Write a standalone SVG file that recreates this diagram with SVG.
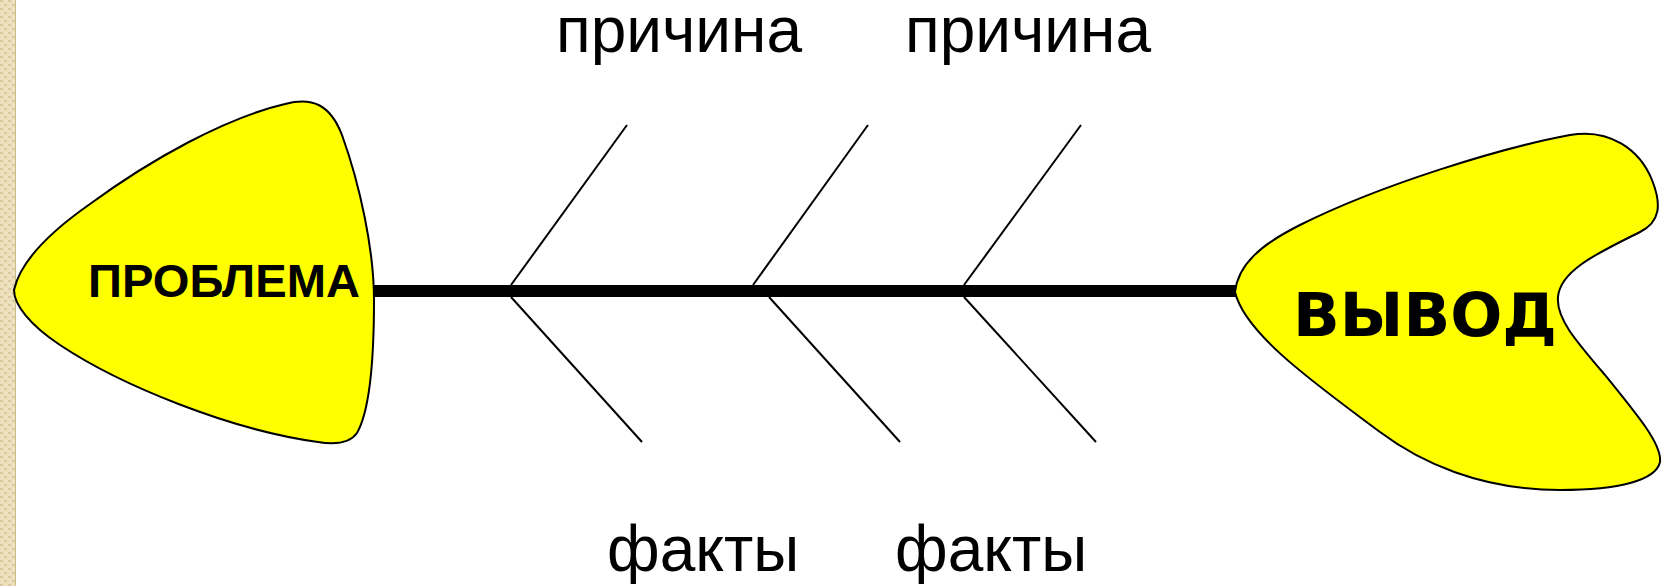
<svg xmlns="http://www.w3.org/2000/svg" width="1670" height="586" viewBox="0 0 1670 586">
<style>
.head{fill:#ffff00;stroke:#000;stroke-width:2;stroke-linejoin:round}
.bone{stroke:#000;stroke-width:2;fill:none}
.spine{stroke:#000;stroke-width:12;fill:none}
.lbl{font-family:"Liberation Sans",Arial,sans-serif;fill:#000}
.hl{font-family:"Liberation Sans",Arial,sans-serif;font-weight:bold;fill:#000}
.hr{font-family:"DejaVu Sans","Liberation Sans",sans-serif;font-weight:bold;fill:#000}
</style>
<defs>
<pattern id="tex" width="8" height="8" patternUnits="userSpaceOnUse">
<rect width="8" height="8" fill="#ecdfbb"/>
<rect x="0" y="0" width="3" height="2" fill="#dccb9e"/>
<rect x="4" y="4" width="3" height="2" fill="#dccb9e"/>
<rect x="2" y="6" width="2" height="1" fill="#f3ead0"/>
<rect x="5" y="1" width="2" height="1" fill="#f3ead0"/>
</pattern>
</defs>
<rect width="1670" height="586" fill="#ffffff"/>
<rect x="0" y="0" width="16" height="586" fill="url(#tex)"/>
<rect x="15" y="0" width="1" height="586" fill="#cdbb8c"/>
<g id="connectors">
<line class="spine" x1="360" y1="291" x2="1240" y2="291"/>
<line class="bone" x1="511" y1="285" x2="627" y2="125"/>
<line class="bone" x1="753" y1="285" x2="868" y2="125"/>
<line class="bone" x1="964" y1="285" x2="1081" y2="125"/>
<line class="bone" x1="511" y1="297" x2="642" y2="442"/>
<line class="bone" x1="769" y1="297" x2="900" y2="442"/>
<line class="bone" x1="964" y1="297" x2="1096" y2="442"/>
</g>
<g id="problem">
<path class="head" d="M 14,290 C 20,262 50,232 90,204 C 150,160 225,118 285,104 C 312,97 330,104 342,135 C 360,185 374,250 374,300 C 374,360 369,412 357,433 C 350,443 337,445 318,442 C 230,430 120,385 60,345 C 30,325 14,305 14,290 Z"/>
<text class="hl" x="88" y="297" font-size="46" textLength="272" lengthAdjust="spacingAndGlyphs">ПРОБЛЕМА</text>
</g>
<g id="conclusion">
<path class="head" d="M 1235,292 C 1238,265 1260,245 1300,225 C 1380,185 1500,148 1570,135 C 1610,128 1640,150 1652,180 C 1662,205 1660,222 1640,232 C 1600,252 1560,270 1558,297 C 1556,318 1575,340 1605,375 C 1640,418 1662,445 1660,462 C 1656,480 1620,490 1560,490 C 1480,490 1420,462 1380,432 C 1320,387 1245,335 1235,292 Z"/>
<text class="hr" x="1293" y="336" font-size="60" textLength="264" lengthAdjust="spacingAndGlyphs">ВЫВОД</text>
</g>
<g id="cause1"><text class="lbl" x="556" y="52" font-size="64">причина</text></g>
<g id="cause2"><text class="lbl" x="905" y="52" font-size="64">причина</text></g>
<g id="facts1"><text class="lbl" x="607" y="571" font-size="64">факты</text></g>
<g id="facts2"><text class="lbl" x="895" y="571" font-size="64">факты</text></g>
</svg>
